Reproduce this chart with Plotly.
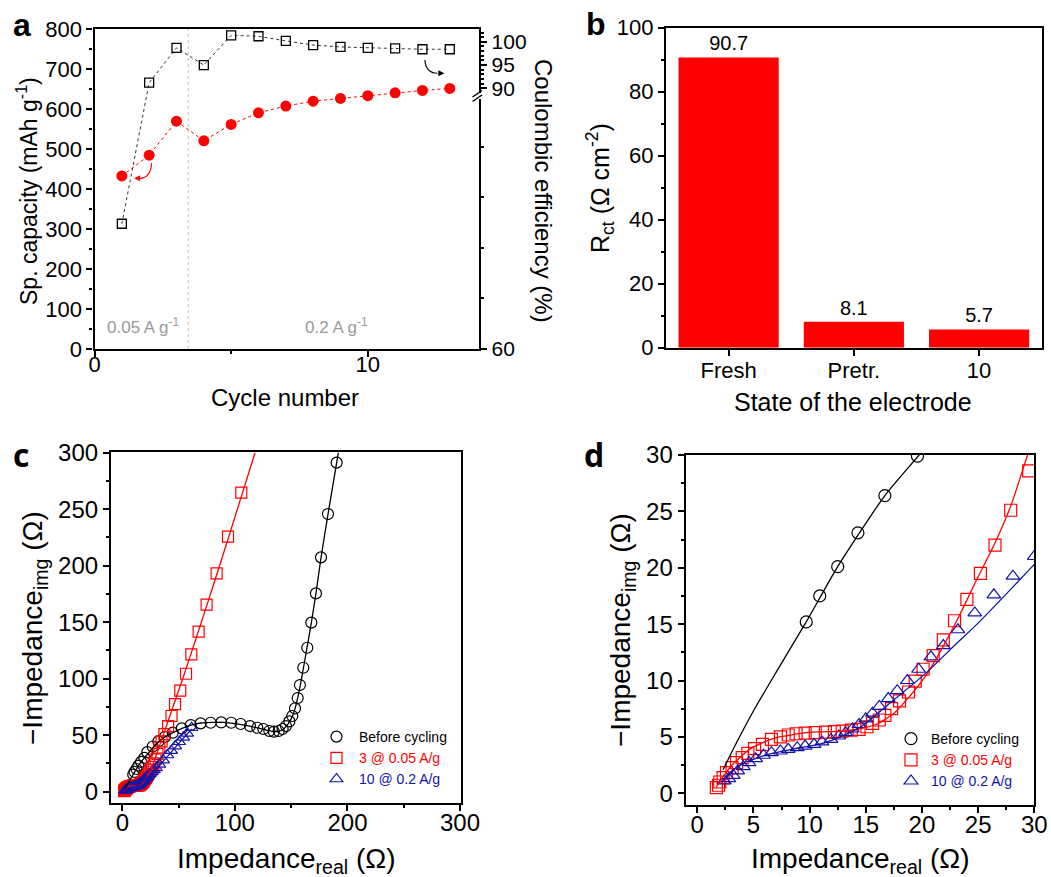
import plotly.graph_objects as go

# ---------------- data ----------------
CYCLES = list(range(1, 14))
CAPACITY = [433, 485, 570, 521, 562, 591, 608, 620, 627, 634, 641, 647, 652]          # mAh g-1
COULOMBIC = [72.4, 91.2, 98.7, 95.0, 101.4, 101.2, 100.2, 99.3, 98.9, 98.7, 98.6, 98.4, 98.4]  # %
RATE_SWITCH_CYCLE = 3.43
CE_TICKS = [60, 90, 95, 100]
CE_MINOR = [65, 70, 75, 80, 91, 92, 93, 94, 96, 97, 98, 99, 101, 102]

STATES = ["Fresh", "Pretr.", "10"]
RCT = [90.7, 8.1, 5.7]

BEFORE_X = [9.7, 10.9, 12.5, 14.3, 16.7, 19.6, 22.2, 27.0, 32.0, 37.9, 44.8, 52.8, 60.8, 69.6,
            78.5, 87.9, 96.8, 105.1, 113.4, 119.9, 125.3, 130.6, 134.7, 138.9, 142.4, 145.4,
            148.4, 151.0, 153.4, 155.8, 157.8, 160.8, 164.3, 167.9, 172.0, 176.5, 182.7, 190.4]
BEFORE_Y = [15.2, 17.5, 20.1, 23.1, 26.4, 29.9, 35.0, 40.0, 44.5, 48.5, 52.2, 56.0, 59.0, 60.5,
            61.0, 61.3, 61.0, 59.9, 58.1, 56.6, 55.5, 53.7, 53.1, 53.7, 55.5, 58.1,
            62.2, 67.0, 73.7, 82.9, 94.4, 109.7, 127.4, 149.6, 175.5, 207.4, 245.7, 291.2]
BEFORE_FIT_X = [2.3, 3.5, 5.0, 7.0, 9.7, 12.5, 16.7, 20.0, 25.0, 30.0, 38.0, 45.0, 53.0, 61.0,
                70.0, 80.0, 90.0, 100.0, 110.0, 120.0, 128.0, 134.0, 139.0, 143.0, 147.0, 151.0,
                154.0, 157.0, 160.0, 164.0, 168.0, 172.0, 176.5, 182.7, 190.4, 191.9]
BEFORE_FIT_Y = [2.1, 4.5, 7.3, 10.7, 15.2, 20.1, 26.4, 30.3, 36.5, 42.0, 48.5, 52.3, 56.0, 59.0,
                60.8, 61.4, 61.3, 60.3, 58.6, 56.5, 54.6, 53.4, 53.5, 55.3, 59.5, 66.5,
                75.5, 88.5, 104.5, 127.0, 150.0, 175.5, 207.0, 245.5, 291.0, 300.0]

CYC3_X = [1.7, 1.9, 2.0, 2.3, 2.6, 3.1, 3.5, 4.0, 4.5, 5.1, 5.8, 6.6, 7.4, 8.1, 8.8, 9.6, 10.5,
          11.4, 12.2, 12.9, 13.7, 14.4, 15.1, 15.6, 16.2, 16.7, 17.3, 18.0, 18.8, 19.4, 20.1,
          21.0, 21.9, 22.9, 24.0, 25.2, 26.5, 27.9, 29.5, 31.2, 32.9, 34.9, 37.4, 40.7, 43.7,
          46.8, 51.5, 56.6, 61.3, 67.8, 74.9, 83.8, 93.9, 105.7]
CYC3_Y = [0.5, 0.71, 1.0, 1.39, 1.83, 2.27, 2.72, 3.16, 3.54, 3.96, 4.34, 4.78, 5.0, 5.17, 5.28,
          5.34, 5.37, 5.43, 5.46, 5.52, 5.6, 5.67, 5.9, 6.2, 6.5, 6.9, 7.5, 8.2, 8.98, 9.95, 11.0,
          12.2, 13.6, 15.3, 17.2, 19.5, 22.0, 25.1, 28.6, 33.5, 39.1, 44.6, 50.9, 58.1, 67.0,
          77.5, 89.4, 104.4, 121.5, 141.6, 165.5, 193.2, 225.7, 264.6]
CYC3_FIT_X = [1.65, 3.0, 4.8, 6.9, 9.9, 12.9, 14.4, 15.9, 17.4, 18.9, 20.4, 21.9, 23.4, 24.9,
              26.5, 27.95, 29.4, 35.0, 45.0, 55.0, 65.0, 80.0, 95.0, 117.9]
CYC3_FIT_Y = [0.5, 2.4, 4.0, 4.9, 5.4, 5.5, 5.7, 6.1, 7.0, 8.6, 10.5, 13.05, 15.9, 19.0,
              22.2, 25.6, 30.0, 46.0, 75.0, 104.0, 134.0, 180.0, 227.0, 300.0]

CYC10_X = [2.4, 2.8, 3.2, 3.6, 4.1, 4.6, 5.2, 5.9, 6.6, 7.4, 8.1, 8.9, 9.6, 10.4, 11.1, 11.9,
           12.6, 13.2, 13.8, 14.4, 15.0, 15.6, 16.2, 17.0, 17.8, 18.7, 19.7, 20.8, 21.9, 23.2,
           24.7, 26.4, 28.1, 30.0, 32.9, 36.4, 40.0, 43.5, 47.1, 50.6, 54.2, 57.7, 61.6]
CYC10_Y = [1.09, 1.3, 1.59, 1.98, 2.36, 2.72, 3.07, 3.37, 3.6, 3.75, 3.9, 4.04, 4.19, 4.34, 4.55,
           4.78, 5.08, 5.37, 5.7, 6.1, 6.6, 7.1, 7.7, 8.4, 9.1, 10.0, 11.0, 12.1, 13.1, 14.5,
           16.0, 17.6, 19.25, 21.0, 24.2, 28.0, 32.5, 36.3, 40.4, 44.2, 48.1, 51.7, 56.6]
CYC10_FIT_X = [2.1, 3.0, 4.0, 5.4, 6.5, 8.4, 11.4, 14.4, 17.4, 20.4, 23.1, 24.9, 30.0, 40.0, 50.0, 61.6]
CYC10_FIT_Y = [0.94, 1.9, 2.6, 3.16, 3.5, 3.9, 4.5, 5.8, 8.2, 10.7, 13.3, 15.0, 20.3, 31.0, 42.5, 55.5]

NAMES = ["Before cycling", "3 @ 0.05 A/g", "10 @ 0.2 A/g"]

# ---------------- styling ----------------
W, H = 1051, 877
FONT = "Liberation Sans, Arial, sans-serif"
RED = "#FF0000"
BLUE = "#1414A8"
BLACK = "#000000"


def fx(p):
    return p / W


def fy(p):
    return 1 - p / H


# broken right axis of panel a: 60-85 in lower part, 90-102.7 in upper part
CE_LOW = (60.0, 85.0)
CE_HIGH = (90.0, 102.7)
LOW_TOP = 0.79
HIGH_BOTTOM = 0.8155


def ce_scale(v):
    if v <= CE_LOW[1]:
        return (v - CE_LOW[0]) / (CE_LOW[1] - CE_LOW[0]) * LOW_TOP
    return HIGH_BOTTOM + (v - CE_HIGH[0]) / (CE_HIGH[1] - CE_HIGH[0]) * (1 - HIGH_BOTTOM)


fig = go.Figure()

# ---- panel a ----
fig.add_trace(go.Scatter(
    x=CYCLES, y=CAPACITY, mode="lines+markers", xaxis="x", yaxis="y",
    line=dict(color=RED, width=1, dash="dot"),
    marker=dict(symbol="circle", size=11, color=RED), showlegend=False,
    name="Sp. capacity"))
fig.add_trace(go.Scatter(
    x=CYCLES, y=[ce_scale(v) for v in COULOMBIC], customdata=COULOMBIC,
    hovertemplate="%{customdata}%<extra></extra>",
    mode="lines+markers", xaxis="x", yaxis="y2",
    line=dict(color="#333333", width=1, dash="dot"),
    marker=dict(symbol="square-open", size=9, color=BLACK, line=dict(width=1.3)),
    showlegend=False, name="Coulombic efficiency"))

# ---- panel b ----
fig.add_trace(go.Bar(
    x=STATES, y=RCT, xaxis="x2", yaxis="y3", width=0.8,
    marker=dict(color=RED, line=dict(width=0)),
    text=[str(v) for v in RCT], textposition="outside", cliponaxis=False,
    textfont=dict(family=FONT, size=20, color=BLACK), showlegend=False))

# ---- panels c and d ----
SERIES = [
    (BEFORE_X, BEFORE_Y, BEFORE_FIT_X, BEFORE_FIT_Y, "circle-open", BLACK, NAMES[0]),
    (CYC3_X, CYC3_Y, CYC3_FIT_X, CYC3_FIT_Y, "square-open", RED, NAMES[1]),
    (CYC10_X, CYC10_Y, CYC10_FIT_X, CYC10_FIT_Y, "triangle-up-open", BLUE, NAMES[2]),
]
for xa, ya, leg, msize in [("x3", "y4", "legend", 11), ("x4", "y5", "legend2", 12)]:
    for sx, sy, fxv, fyv, sym, col, name in SERIES:
        fig.add_trace(go.Scatter(
            x=sx, y=sy, mode="markers", xaxis=xa, yaxis=ya, legend=leg,
            marker=dict(symbol=sym, size=msize, color=col, line=dict(width=1.2, color=col)),
            name=f"<span style='color:{col}'>{name}</span>"))
    for sx, sy, fxv, fyv, sym, col, name in SERIES:
        fig.add_trace(go.Scatter(
            x=fxv, y=fyv, mode="lines", xaxis=xa, yaxis=ya, showlegend=False,
            line=dict(color=col, width=1.3, shape="spline", smoothing=0.6), name=name + " fit"))

# ---------------- axes ----------------
tickfont_ab = dict(family=FONT, size=22, color=BLACK)
tickfont_cd = dict(family=FONT, size=24, color=BLACK)
base = dict(showline=True, linecolor=BLACK, linewidth=2.2, mirror=True, ticks="outside",
            ticklen=6, tickwidth=2, tickcolor=BLACK, showgrid=False, zeroline=False)


def minor(dt):
    return dict(ticks="outside", ticklen=3, tickwidth=1.5, tickcolor=BLACK, dtick=dt, showgrid=False)


fig.update_layout(
    width=W, height=H, margin=dict(l=0, r=0, t=0, b=0, autoexpand=False),
    paper_bgcolor="white", plot_bgcolor="white", font=dict(family=FONT, color=BLACK),
    xaxis=dict(base, domain=[fx(94.5), fx(479.3)], range=[0, 14.08], anchor="y",
               dtick=10, tickfont=tickfont_ab, minor=minor(5), ticklabelstandoff=-12),
    yaxis=dict(base, domain=[fy(349), fy(29.3)], range=[0, 800], anchor="x",
               dtick=100, tickfont=tickfont_ab, minor=minor(50)),
    yaxis2=dict(showline=True, linecolor=BLACK, linewidth=2.2, overlaying="y", side="right",
                anchor="x", range=[0, 1], showgrid=False, zeroline=False, ticks="outside",
                ticklen=6, tickwidth=2, tickcolor=BLACK,
                tickfont=dict(family=FONT, size=21, color=BLACK),
                tickmode="array", tickvals=[ce_scale(v) for v in CE_TICKS],
                ticktext=[str(v) for v in CE_TICKS],
                minor=dict(ticks="outside", ticklen=3, tickwidth=1.5, tickcolor=BLACK,
                           tickmode="array", tickvals=[ce_scale(v) for v in CE_MINOR],
                           showgrid=False)),
    xaxis2=dict(base, domain=[fx(666), fx(1041.7)], anchor="y3", type="category",
                range=[-0.5, 2.5], tickfont=tickfont_ab, ticklabelstandoff=-4),
    yaxis3=dict(base, domain=[fy(347.7), fy(27.7)], anchor="x2", range=[0, 100],
                dtick=20, tickfont=tickfont_ab, minor=minor(10)),
    xaxis3=dict(base, domain=[fx(111), fx(460.7)], anchor="y4", range=[-10.04, 300.6],
                dtick=100, tickfont=tickfont_cd, minor=minor(50), ticklabelstandoff=-9),
    yaxis4=dict(base, domain=[fy(802.7), fy(452.3)], anchor="x3", range=[-9.73, 300.35],
                dtick=50, tickfont=tickfont_cd, minor=minor(25)),
    xaxis4=dict(base, domain=[fx(685.7), fx(1034.3)], anchor="y5", range=[-1.03, 30],
                dtick=5, tickfont=tickfont_cd, minor=minor(2.5), ticklabelstandoff=-9),
    yaxis5=dict(base, domain=[fy(805), fy(455)], anchor="x4", range=[-1.04, 30],
                dtick=5, tickfont=tickfont_cd, minor=minor(2.5)),
    legend=dict(x=fx(314), y=fy(721), xanchor="left", yanchor="top", itemwidth=35,
                bgcolor="rgba(0,0,0,0)", font=dict(family=FONT, size=14, color=BLACK),
                tracegroupgap=0),
    legend2=dict(x=fx(891), y=fy(723), xanchor="left", yanchor="top",
                 bgcolor="rgba(0,0,0,0)", font=dict(family=FONT, size=14, color=BLACK),
                 tracegroupgap=0),
    bargap=0.2,
)


# ---------------- texts ----------------
def ann(text, px, py, size, angle=0, color=BLACK, bold=False, family=FONT):
    return dict(text=f"<b>{text}</b>" if bold else text, x=fx(px), y=fy(py),
                xref="paper", yref="paper", showarrow=False, textangle=angle,
                xanchor="center", yanchor="middle",
                font=dict(family=family, size=size, color=color))


annotations = [
    ann("a", 22, 25, 32, bold=True),
    ann("b", 596, 24, 32, bold=True),
    ann("c", 21, 454, 32, bold=True, family="Open Sans, sans-serif"),
    ann("d", 594, 454, 32, bold=True, family="Open Sans, sans-serif"),
    ann("Sp. capacity (mAh g<sup>-1</sup>)", 27, 191, 23, angle=-90),
    ann("Coulombic efficiency (%)", 544, 191, 24, angle=90),
    ann("Cycle number", 285, 397, 24),
    ann("R<sub>ct</sub> (Ω cm<sup>-2</sup>)", 600, 188, 25, angle=-90),
    ann("State of the electrode", 853, 402, 25),
    ann("\u2212Impedance<sub>img</sub> (Ω)", 34, 628, 28, angle=-90),
    ann("Impedance<sub>real</sub> (Ω)", 286, 860, 28),
    ann("\u2212Impedance<sub>img</sub> (Ω)", 622, 630, 28, angle=-90),
    ann("Impedance<sub>real</sub> (Ω)", 860, 860, 28),
    dict(text="0.05 A g<sup>-1</sup>", x=1.77, y=58, xref="x", yref="y", showarrow=False,
         font=dict(family=FONT, size=17, color="#9A9A9A")),
    dict(text="0.2 A g<sup>-1</sup>", x=8.86, y=58, xref="x", yref="y", showarrow=False,
         font=dict(family=FONT, size=17, color="#9A9A9A")),
    # arrow heads of the curved arrows
    dict(text="", x=1.45, y=427, ax=1.66, ay=427, xref="x", yref="y", axref="x", ayref="y",
         showarrow=True, arrowhead=2, arrowsize=1, arrowwidth=1.2, arrowcolor=RED),
    dict(text="", x=12.8, y=690, ax=12.55, ay=690, xref="x", yref="y", axref="x", ayref="y",
         showarrow=True, arrowhead=2, arrowsize=1, arrowwidth=1.2, arrowcolor=BLACK),
]
fig.update_layout(annotations=annotations)

shapes = [
    dict(type="line", xref="x", yref="y domain", x0=RATE_SWITCH_CYCLE, x1=RATE_SWITCH_CYCLE,
         y0=0, y1=1, line=dict(color="#BDBDBD", width=1, dash="dot"), layer="below"),
    dict(type="path", xref="x", yref="y", path="M 2.09,465 Q 2.05,428 1.66,427",
         line=dict(color=RED, width=1.2)),
    dict(type="path", xref="x", yref="y", path="M 12.09,723 Q 12.12,690 12.55,690",
         line=dict(color=BLACK, width=1.2)),
    # axis break marks on the right axis of panel a
    dict(type="rect", xref="paper", yref="paper", x0=fx(476), x1=fx(483), y0=fy(99), y1=fy(93),
         fillcolor="white", line=dict(width=0)),
    dict(type="line", xref="paper", yref="paper", x0=fx(472.5), y0=fy(97), x1=fx(482), y1=fy(90.5),
         line=dict(color=BLACK, width=1.5)),
    dict(type="line", xref="paper", yref="paper", x0=fx(472.5), y0=fy(101.5), x1=fx(482), y1=fy(95),
         line=dict(color=BLACK, width=1.5)),
]
fig.update_layout(shapes=shapes)

fig.write_html("out.html")
